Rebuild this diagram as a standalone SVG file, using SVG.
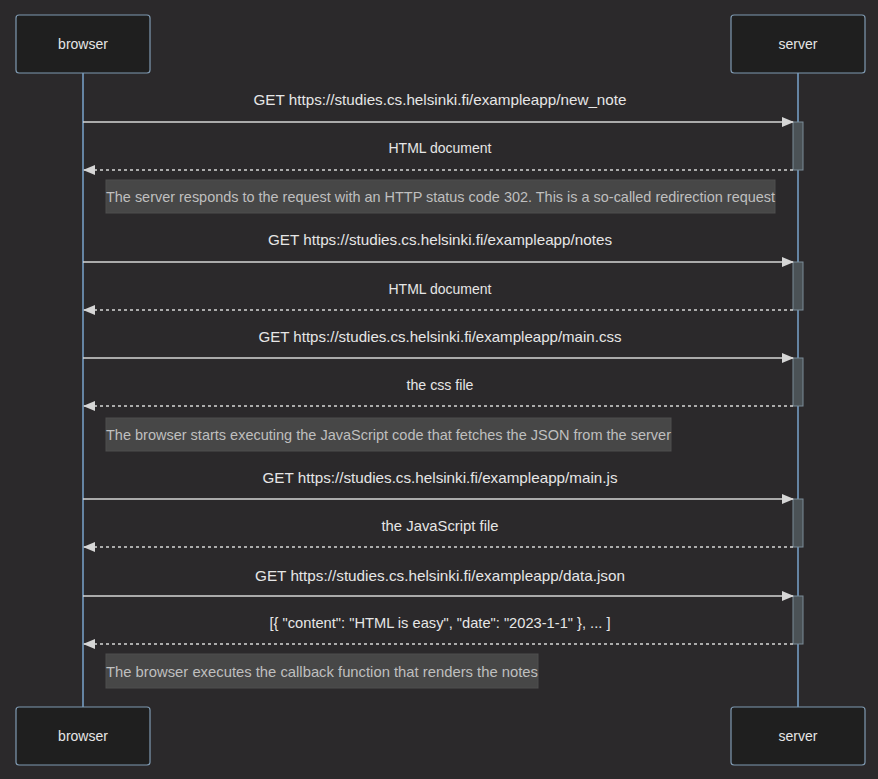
<svg xmlns="http://www.w3.org/2000/svg" width="878" height="779" viewBox="0 0 878 779">
  <style>
    .actor rect { fill: #1f1f1f; stroke: #7f99b1; stroke-width: 1.2; }
    .actor text { fill: #e6e6e6; font-family: "Liberation Sans", "DejaVu Sans", sans-serif; font-size: 14px; text-anchor: middle; dominant-baseline: central; }
    .life { stroke: #7aa3cc; stroke-width: 1.5; }
    .act { fill: #4b5256; stroke: #7b8b97; stroke-width: 1; }
    .msg { stroke: #d6d6d6; stroke-width: 1.5; fill: none; }
    .dash { stroke-dasharray: 3 3; }
    .label { fill: #e6e6e6; font-family: "Liberation Sans", "DejaVu Sans", sans-serif; font-size: 14.5px; text-anchor: middle; dominant-baseline: central; }
    .note rect { fill: #474747; stroke: #4f4f4f; stroke-width: 1; }
    .note text { fill: #bfbfbf; font-family: "Liberation Sans", "DejaVu Sans", sans-serif; font-size: 14.5px; dominant-baseline: central; }
  </style>
  <defs>
    <marker id="head" markerWidth="12" markerHeight="10" refX="11" refY="5" orient="auto-start-reverse" markerUnits="userSpaceOnUse">
      <path d="M0,0 L12,5 L0,10 z" fill="#d6d6d6"/>
    </marker>
  </defs>

  <rect width="878" height="779" fill="#2b292b"/>

  <!-- lifelines -->
  <g id="lifelines">
    <line class="life" x1="83" y1="73" x2="83" y2="707"/>
    <line class="life" x1="798" y1="73" x2="798" y2="707"/>
  </g>

  <!-- participants -->
  <g id="browser-top" class="actor">
    <rect x="16" y="15" width="134" height="58" rx="3"/>
    <text x="83" y="44">browser</text>
  </g>
  <g id="server-top" class="actor">
    <rect x="731" y="15" width="134" height="58" rx="3"/>
    <text x="798" y="44">server</text>
  </g>
  <g id="browser-bottom" class="actor">
    <rect x="16" y="707" width="134" height="58" rx="3"/>
    <text x="83" y="736">browser</text>
  </g>
  <g id="server-bottom" class="actor">
    <rect x="731" y="707" width="134" height="58" rx="3"/>
    <text x="798" y="736">server</text>
  </g>

  <!-- activation bars on the server -->
  <g id="activations">
    <rect class="act" x="793" y="122" width="10" height="48"/>
    <rect class="act" x="793" y="262" width="10" height="48"/>
    <rect class="act" x="793" y="358" width="10" height="48"/>
    <rect class="act" x="793" y="499" width="10" height="48"/>
    <rect class="act" x="793" y="596" width="10" height="48"/>
  </g>

  <!-- messages -->
  <g id="connectors">
    <line class="msg" x1="83" y1="122" x2="793" y2="122" marker-end="url(#head)"/>
    <line class="msg dash" x1="793" y1="170" x2="84" y2="170" marker-end="url(#head)"/>
    <line class="msg" x1="83" y1="262" x2="793" y2="262" marker-end="url(#head)"/>
    <line class="msg dash" x1="793" y1="310" x2="84" y2="310" marker-end="url(#head)"/>
    <line class="msg" x1="83" y1="358" x2="793" y2="358" marker-end="url(#head)"/>
    <line class="msg dash" x1="793" y1="406" x2="84" y2="406" marker-end="url(#head)"/>
    <line class="msg" x1="83" y1="499" x2="793" y2="499" marker-end="url(#head)"/>
    <line class="msg dash" x1="793" y1="547" x2="84" y2="547" marker-end="url(#head)"/>
    <line class="msg" x1="83" y1="596" x2="793" y2="596" marker-end="url(#head)"/>
    <line class="msg dash" x1="793" y1="644" x2="84" y2="644" marker-end="url(#head)"/>
  </g>

  <g id="message-labels">
    <text class="label" x="440" y="100" textLength="373" lengthAdjust="spacingAndGlyphs">GET https://studies.cs.helsinki.fi/exampleapp/new_note</text>
    <text class="label" x="440" y="148" textLength="103" lengthAdjust="spacingAndGlyphs">HTML document</text>
    <text class="label" x="440" y="240" textLength="344" lengthAdjust="spacingAndGlyphs">GET https://studies.cs.helsinki.fi/exampleapp/notes</text>
    <text class="label" x="440" y="289" textLength="103" lengthAdjust="spacingAndGlyphs">HTML document</text>
    <text class="label" x="440" y="337" textLength="363" lengthAdjust="spacingAndGlyphs">GET https://studies.cs.helsinki.fi/exampleapp/main.css</text>
    <text class="label" x="440" y="385" textLength="67" lengthAdjust="spacingAndGlyphs">the css file</text>
    <text class="label" x="440" y="478" textLength="355" lengthAdjust="spacingAndGlyphs">GET https://studies.cs.helsinki.fi/exampleapp/main.js</text>
    <text class="label" x="440" y="526" textLength="117" lengthAdjust="spacingAndGlyphs">the JavaScript file</text>
    <text class="label" x="440" y="576" textLength="370" lengthAdjust="spacingAndGlyphs">GET https://studies.cs.helsinki.fi/exampleapp/data.json</text>
    <text class="label" x="440" y="623" textLength="341" lengthAdjust="spacingAndGlyphs">[{ "content": "HTML is easy", "date": "2023-1-1" }, ... ]</text>
  </g>

  <!-- notes -->
  <g id="note-redirect" class="note">
    <rect x="106" y="180" width="669" height="33"/>
    <text x="106" y="197" textLength="669" lengthAdjust="spacingAndGlyphs">The server responds to the request with an HTTP status code 302. This is a so-called redirection request</text>
  </g>
  <g id="note-js" class="note">
    <rect x="106" y="418" width="565" height="33"/>
    <text x="106" y="435" textLength="565" lengthAdjust="spacingAndGlyphs">The browser starts executing the JavaScript code that fetches the JSON from the server</text>
  </g>
  <g id="note-render" class="note">
    <rect x="106" y="654" width="432" height="34"/>
    <text x="106" y="672" textLength="432" lengthAdjust="spacingAndGlyphs">The browser executes the callback function that renders the notes</text>
  </g>
</svg>
